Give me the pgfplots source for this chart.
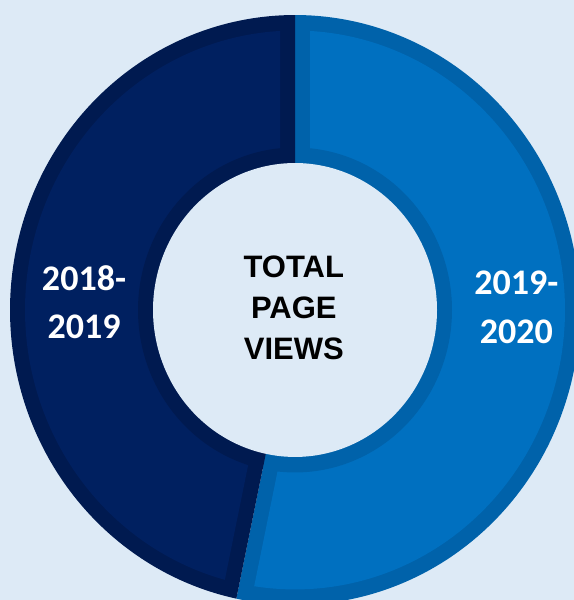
\documentclass[border=0pt]{standalone}
\usepackage{fontspec}
\usepackage{pgfplots}
\usepackage{pgfplotstable}
\pgfplotsset{compat=1.18}
\newfontfamily\carlito{Carlito}
\newfontfamily\arialb{Liberation Sans}
\definecolor{bgc}{HTML}{DDEAF6}
\definecolor{navyF}{HTML}{002060}
\definecolor{navyB}{HTML}{001A50}
\definecolor{blueF}{HTML}{0070C0}
\definecolor{blueB}{HTML}{0062AA}

% share of total page views (percent)
\pgfplotstableread{
period share
2018-2019 46.7
2019-2020 53.3
}\datatable
\pgfplotstablegetelem{1}{share}\of\datatable
\let\shareA\pgfplotsretval

% geometry (data units)
\def\Ro{285}   % outer radius
\def\Ri{142}   % inner radius
\def\bw{15}    % border band width
\pgfmathsetmacro{\sA}{90-3.6*\shareA}          % split angle (clockwise from top)
\pgfmathsetmacro{\sB}{\sA+360}
\pgfmathsetmacro{\Rin}{\Ro-\bw}
\pgfmathsetmacro{\Rib}{\Ri+\bw}
\pgfmathsetmacro{\dang}{asin(\bw/\Rin)}
\pgfmathsetmacro{\aAs}{\sA+\dang}
\pgfmathsetmacro{\aAe}{90-\dang}
\pgfmathsetmacro{\aBs}{90+\dang}
\pgfmathsetmacro{\aBe}{\sB-\dang}
\pgfmathsetmacro{\tt}{\bw*(1+sin(\sA))/cos(\sA)}
\pgfmathsetmacro{\apy}{\tt*sin(\sA)+\bw*cos(\sA)}
\pgfmathsetmacro{\apyB}{-\apy}

\begin{document}
\begin{tikzpicture}
\begin{axis}[
  hide axis, scale only axis,
  x=1bp, y=1.035bp,
  xmin=-295, xmax=279, ymin=-280.2, ymax=299.5,
  clip=true,
]
\fill[bgc] (rel axis cs:0,0) rectangle (rel axis cs:1,1);
% outer wedges (border colour)
\addplot[fill=blueB, draw=none, domain=\sA:90, samples=180, variable=\t]
  ({\Ro*cos(\t)},{\Ro*sin(\t)}) -- (axis cs:0,0) -- cycle;
\addplot[fill=navyB, draw=none, domain=90:\sB, samples=180, variable=\t]
  ({\Ro*cos(\t)},{\Ro*sin(\t)}) -- (axis cs:0,0) -- cycle;
% inset wedges (fill colour)
\addplot[fill=blueF, draw=none, domain=\aAs:\aAe, samples=180, variable=\t]
  ({\Rin*cos(\t)},{\Rin*sin(\t)}) -- (axis cs:\bw,\apy) -- cycle;
\addplot[fill=navyF, draw=none, domain=\aBs:\aBe, samples=180, variable=\t]
  ({\Rin*cos(\t)},{\Rin*sin(\t)}) -- (axis cs:-\bw,\apyB) -- cycle;
% inner border band
\addplot[fill=blueB, draw=none, domain=\sA:90, samples=120, variable=\t]
  ({\Rib*cos(\t)},{\Rib*sin(\t)}) -- (axis cs:0,0) -- cycle;
\addplot[fill=navyB, draw=none, domain=90:\sB, samples=120, variable=\t]
  ({\Rib*cos(\t)},{\Rib*sin(\t)}) -- (axis cs:0,0) -- cycle;
% hole
\addplot[fill=bgc, draw=none, domain=0:360, samples=200, variable=\t]
  ({\Ri*cos(\t)},{\Ri*sin(\t)}) -- cycle;
% labels
\node[anchor=base, text=black, font=\arialb\bfseries\fontsize{31bp}{37bp}\selectfont] at (axis cs:-1.2,31.6) {TOTAL};
\node[anchor=base, text=black, font=\arialb\bfseries\fontsize{31bp}{37bp}\selectfont] at (axis cs:-1.2,-8.7) {PAGE};
\node[anchor=base, text=black, font=\arialb\bfseries\fontsize{31bp}{37bp}\selectfont] at (axis cs:-1.2,-48.3) {VIEWS};
\node[anchor=base, text=white, font=\carlito\bfseries\fontsize{36bp}{43bp}\selectfont] at (axis cs:-211,19.3) {2018-};
\node[anchor=base, text=white, font=\carlito\bfseries\fontsize{36bp}{43bp}\selectfont] at (axis cs:-211,-27.1) {2019};
\node[anchor=base, text=white, font=\carlito\bfseries\fontsize{36bp}{43bp}\selectfont] at (axis cs:221.3,14.5) {2019-};
\node[anchor=base, text=white, font=\carlito\bfseries\fontsize{36bp}{43bp}\selectfont] at (axis cs:221.3,-32.2) {2020};
\end{axis}
\pgfresetboundingbox
\useasboundingbox (current axis.south west) rectangle (current axis.north east);
\end{tikzpicture}
\end{document}
